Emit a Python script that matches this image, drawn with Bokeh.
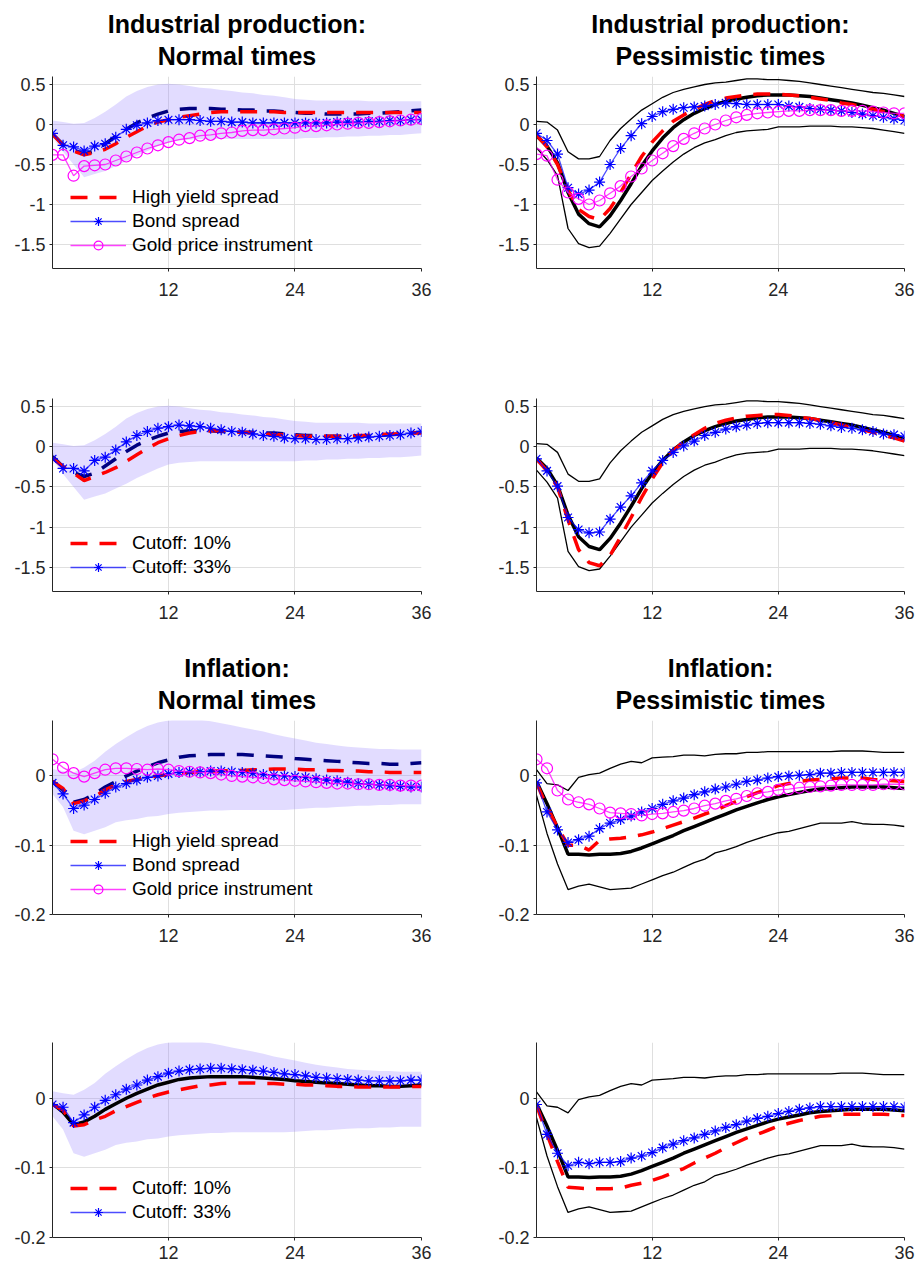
from bokeh.plotting import figure
from bokeh.models import (Range1d, FixedTicker, CustomJSTickFormatter, Legend,
                          LegendItem, Title)
from bokeh.layouts import column, row
from bokeh.embed import file_html
from bokeh.resources import INLINE

# ---------------- data ----------------
horizon = list(range(1, 37))
x_ticks = [12, 24, 36]
ip_ticks = [-1.5, -1, -0.5, 0, 0.5]
inf_ticks = [-0.2, -0.1, 0]

# Industrial production, normal times
ip_norm_band_hi = [0.05, 0.03, 0.01, 0.02, 0.08, 0.16, 0.25, 0.35, 0.42, 0.47, 0.50, 0.51, 0.50, 0.48, 0.46, 0.45, 0.43, 0.42,
                   0.40, 0.39, 0.37, 0.36, 0.34, 0.32, 0.31, 0.30, 0.30, 0.30, 0.30, 0.30, 0.29, 0.29, 0.29, 0.29, 0.29, 0.29]
ip_norm_band_lo = [-0.16, -0.34, -0.50, -0.66, -0.62, -0.58, -0.52, -0.46, -0.39, -0.33, -0.27, -0.22, -0.20, -0.19, -0.18, -0.18, -0.18, -0.18,
                   -0.18, -0.18, -0.18, -0.18, -0.18, -0.18, -0.17, -0.17, -0.16, -0.16, -0.15, -0.15, -0.14, -0.14, -0.13, -0.13, -0.12, -0.11]
ip_norm_base = [-0.12, -0.25, -0.32, -0.37, -0.33, -0.24, -0.15, -0.06, 0.02, 0.08, 0.13, 0.17, 0.19, 0.20, 0.20, 0.20, 0.19, 0.19,
                0.18, 0.18, 0.17, 0.17, 0.16, 0.15, 0.14, 0.14, 0.13, 0.13, 0.13, 0.13, 0.14, 0.14, 0.15, 0.16, 0.17, 0.18]
ip_norm_hy = [-0.12, -0.26, -0.33, -0.38, -0.35, -0.31, -0.24, -0.16, -0.09, -0.02, 0.03, 0.06, 0.09, 0.11, 0.13, 0.15, 0.16, 0.16,
              0.16, 0.16, 0.16, 0.16, 0.15, 0.15, 0.15, 0.15, 0.15, 0.15, 0.15, 0.15, 0.15, 0.15, 0.15, 0.15, 0.15, 0.15]
ip_norm_bond = [-0.11, -0.26, -0.28, -0.33, -0.27, -0.24, -0.16, -0.06, -0.01, 0.02, 0.05, 0.06, 0.06, 0.06, 0.05, 0.04, 0.04, 0.03,
                0.03, 0.02, 0.02, 0.02, 0.02, 0.02, 0.02, 0.02, 0.02, 0.03, 0.03, 0.03, 0.04, 0.04, 0.05, 0.05, 0.06, 0.06]
ip_norm_gold = [-0.38, -0.38, -0.64, -0.52, -0.51, -0.50, -0.45, -0.40, -0.35, -0.30, -0.26, -0.22, -0.19, -0.17, -0.14, -0.13, -0.11, -0.10,
                -0.08, -0.07, -0.07, -0.06, -0.05, -0.04, -0.02, -0.02, -0.01, 0.00, 0.01, 0.02, 0.02, 0.03, 0.04, 0.05, 0.06, 0.07]
ip_norm_c10 = [-0.14, -0.25, -0.33, -0.42, -0.37, -0.32, -0.26, -0.18, -0.10, -0.02, 0.05, 0.10, 0.14, 0.17, 0.19, 0.20, 0.20, 0.19,
               0.18, 0.17, 0.16, 0.15, 0.15, 0.14, 0.13, 0.13, 0.13, 0.13, 0.13, 0.14, 0.14, 0.15, 0.16, 0.16, 0.17, 0.17]
ip_norm_c33 = [-0.15, -0.27, -0.27, -0.30, -0.17, -0.13, -0.04, 0.06, 0.14, 0.19, 0.23, 0.25, 0.27, 0.26, 0.25, 0.23, 0.21, 0.19,
               0.18, 0.16, 0.14, 0.13, 0.11, 0.10, 0.10, 0.09, 0.09, 0.10, 0.10, 0.11, 0.12, 0.13, 0.14, 0.15, 0.17, 0.19]

# Industrial production, pessimistic times
ip_pess_hi = [0.04, 0.03, -0.07, -0.34, -0.43, -0.43, -0.40, -0.20, -0.05, 0.07, 0.18, 0.26, 0.34, 0.40, 0.44, 0.47, 0.50, 0.52,
              0.53, 0.55, 0.57, 0.57, 0.56, 0.56, 0.55, 0.54, 0.52, 0.50, 0.48, 0.46, 0.44, 0.42, 0.40, 0.39, 0.37, 0.35]
ip_pess_lo = [-0.29, -0.44, -0.64, -1.30, -1.49, -1.54, -1.52, -1.36, -1.18, -1.00, -0.85, -0.70, -0.58, -0.47, -0.37, -0.29, -0.23, -0.19,
              -0.14, -0.10, -0.08, -0.07, -0.06, -0.03, -0.03, -0.03, -0.02, -0.02, -0.02, -0.03, -0.03, -0.04, -0.05, -0.07, -0.09, -0.11]
ip_pess_base = [-0.14, -0.27, -0.48, -0.85, -1.12, -1.24, -1.28, -1.14, -0.95, -0.74, -0.52, -0.33, -0.17, -0.04, 0.06, 0.14, 0.20, 0.25,
                0.29, 0.32, 0.34, 0.36, 0.37, 0.37, 0.37, 0.36, 0.35, 0.33, 0.31, 0.29, 0.27, 0.24, 0.21, 0.18, 0.14, 0.10]
ip_pess_hy = [-0.13, -0.28, -0.50, -0.82, -1.06, -1.15, -1.19, -1.05, -0.85, -0.62, -0.40, -0.22, -0.08, 0.04, 0.12, 0.19, 0.25, 0.30,
              0.33, 0.35, 0.37, 0.38, 0.38, 0.38, 0.37, 0.36, 0.34, 0.32, 0.30, 0.27, 0.25, 0.22, 0.19, 0.16, 0.13, 0.10]
ip_pess_bond = [-0.11, -0.20, -0.37, -0.79, -0.87, -0.82, -0.72, -0.50, -0.30, -0.14, 0.01, 0.10, 0.16, 0.19, 0.21, 0.22, 0.23, 0.25,
                0.27, 0.26, 0.25, 0.25, 0.25, 0.25, 0.23, 0.22, 0.20, 0.19, 0.18, 0.17, 0.15, 0.13, 0.11, 0.09, 0.07, 0.05]
ip_pess_gold = [-0.37, -0.39, -0.69, -0.85, -0.93, -1.00, -0.95, -0.86, -0.77, -0.65, -0.55, -0.45, -0.36, -0.27, -0.18, -0.11, -0.05, 0.00,
                0.05, 0.09, 0.12, 0.14, 0.15, 0.16, 0.17, 0.17, 0.18, 0.18, 0.18, 0.17, 0.17, 0.17, 0.16, 0.15, 0.14, 0.14]
ip_pess_c10 = [-0.15, -0.30, -0.50, -0.91, -1.28, -1.44, -1.48, -1.35, -1.12, -0.88, -0.63, -0.40, -0.20, -0.05, 0.06, 0.15, 0.23, 0.29,
               0.33, 0.36, 0.38, 0.39, 0.40, 0.40, 0.39, 0.37, 0.35, 0.33, 0.30, 0.27, 0.24, 0.21, 0.18, 0.14, 0.11, 0.07]
ip_pess_c33 = [-0.15, -0.30, -0.49, -0.88, -1.03, -1.07, -1.06, -0.90, -0.75, -0.61, -0.45, -0.30, -0.17, -0.07, 0.01, 0.07, 0.14, 0.18,
               0.22, 0.25, 0.27, 0.29, 0.30, 0.30, 0.30, 0.30, 0.29, 0.28, 0.26, 0.24, 0.23, 0.21, 0.19, 0.16, 0.15, 0.13]

# Inflation, normal times
inf_norm_band_hi = [0.010, 0.007, 0.005, 0.012, 0.022, 0.035, 0.046, 0.056, 0.065, 0.072, 0.077, 0.080, 0.082, 0.082, 0.081, 0.079, 0.076, 0.073,
                    0.070, 0.067, 0.064, 0.060, 0.057, 0.054, 0.051, 0.048, 0.046, 0.044, 0.042, 0.041, 0.040, 0.039, 0.039, 0.038, 0.038, 0.038]
inf_norm_band_lo = [-0.026, -0.045, -0.079, -0.084, -0.079, -0.074, -0.067, -0.064, -0.062, -0.059, -0.058, -0.055, -0.053, -0.052, -0.051, -0.050, -0.050, -0.049,
                    -0.049, -0.049, -0.049, -0.049, -0.049, -0.048, -0.047, -0.046, -0.046, -0.045, -0.044, -0.043, -0.043, -0.042, -0.042, -0.041, -0.041, -0.041]
inf_norm_base = [-0.008, -0.020, -0.038, -0.034, -0.026, -0.016, -0.008, 0.000, 0.007, 0.013, 0.019, 0.023, 0.027, 0.029, 0.030, 0.031, 0.031, 0.031,
                 0.031, 0.030, 0.029, 0.028, 0.027, 0.025, 0.024, 0.023, 0.022, 0.021, 0.020, 0.019, 0.018, 0.018, 0.017, 0.017, 0.018, 0.019]
inf_norm_hy = [-0.008, -0.018, -0.040, -0.036, -0.030, -0.020, -0.013, -0.008, -0.005, -0.002, 0.000, 0.002, 0.004, 0.005, 0.006, 0.007, 0.007, 0.008,
               0.008, 0.009, 0.009, 0.010, 0.010, 0.010, 0.009, 0.009, 0.008, 0.008, 0.007, 0.007, 0.006, 0.006, 0.005, 0.005, 0.005, 0.005]
inf_norm_bond = [-0.010, -0.026, -0.047, -0.042, -0.034, -0.025, -0.016, -0.011, -0.006, -0.002, 0.000, 0.003, 0.005, 0.006, 0.006, 0.007, 0.007, 0.006,
                 0.005, 0.004, 0.002, 0.001, 0.000, -0.001, -0.002, -0.004, -0.006, -0.007, -0.009, -0.011, -0.012, -0.013, -0.014, -0.015, -0.016, -0.016]
inf_norm_gold = [0.024, 0.012, 0.004, -0.001, 0.004, 0.009, 0.011, 0.011, 0.010, 0.009, 0.010, 0.009, 0.007, 0.006, 0.005, 0.004, 0.002, 0.000,
                 -0.001, -0.002, -0.003, -0.005, -0.006, -0.007, -0.008, -0.009, -0.010, -0.011, -0.011, -0.012, -0.012, -0.013, -0.013, -0.014, -0.014, -0.014]
inf_norm_c10 = [-0.009, -0.017, -0.040, -0.038, -0.031, -0.026, -0.018, -0.012, -0.006, 0.000, 0.005, 0.009, 0.012, 0.015, 0.018, 0.019, 0.021, 0.022,
                0.022, 0.022, 0.021, 0.021, 0.020, 0.020, 0.019, 0.019, 0.018, 0.017, 0.017, 0.016, 0.016, 0.016, 0.016, 0.016, 0.017, 0.017]
inf_norm_c33 = [-0.009, -0.013, -0.035, -0.024, -0.013, -0.003, 0.005, 0.013, 0.019, 0.026, 0.031, 0.036, 0.039, 0.041, 0.042, 0.043, 0.043, 0.042,
                0.041, 0.040, 0.039, 0.037, 0.035, 0.034, 0.032, 0.030, 0.029, 0.028, 0.027, 0.026, 0.025, 0.025, 0.025, 0.025, 0.026, 0.026]

# Inflation, pessimistic times
inf_pess_hi = [0.009, -0.011, -0.013, -0.021, -0.002, 0.002, 0.004, 0.011, 0.017, 0.021, 0.019, 0.026, 0.027, 0.028, 0.030, 0.030, 0.029, 0.031,
               0.032, 0.032, 0.034, 0.034, 0.035, 0.035, 0.035, 0.035, 0.035, 0.035, 0.035, 0.036, 0.036, 0.036, 0.035, 0.034, 0.034, 0.034]
inf_pess_lo = [-0.028, -0.083, -0.127, -0.164, -0.159, -0.156, -0.160, -0.164, -0.163, -0.162, -0.156, -0.150, -0.144, -0.139, -0.132, -0.125, -0.120, -0.111,
               -0.107, -0.102, -0.096, -0.091, -0.086, -0.082, -0.080, -0.076, -0.072, -0.068, -0.068, -0.068, -0.066, -0.069, -0.070, -0.070, -0.071, -0.073]
inf_pess_base = [-0.008, -0.040, -0.075, -0.113, -0.113, -0.114, -0.113, -0.113, -0.112, -0.109, -0.104, -0.098, -0.092, -0.086, -0.079, -0.073, -0.067, -0.061,
                 -0.055, -0.049, -0.044, -0.039, -0.034, -0.030, -0.027, -0.024, -0.021, -0.019, -0.018, -0.017, -0.016, -0.016, -0.016, -0.016, -0.017, -0.018]
inf_pess_hy = [-0.010, -0.045, -0.074, -0.100, -0.100, -0.107, -0.093, -0.091, -0.090, -0.088, -0.085, -0.081, -0.076, -0.071, -0.066, -0.061, -0.055, -0.050,
               -0.043, -0.037, -0.030, -0.024, -0.019, -0.014, -0.011, -0.008, -0.006, -0.005, -0.004, -0.003, -0.003, -0.003, -0.005, -0.006, -0.007, -0.008]
inf_pess_bond = [-0.010, -0.052, -0.078, -0.096, -0.092, -0.087, -0.076, -0.068, -0.063, -0.058, -0.052, -0.047, -0.041, -0.036, -0.032, -0.027, -0.023, -0.019,
                 -0.016, -0.012, -0.008, -0.006, -0.003, -0.001, 0.000, 0.001, 0.002, 0.004, 0.004, 0.005, 0.005, 0.005, 0.005, 0.005, 0.005, 0.005]
inf_pess_gold = [0.024, 0.011, -0.021, -0.034, -0.038, -0.041, -0.047, -0.053, -0.054, -0.055, -0.057, -0.055, -0.054, -0.052, -0.050, -0.047, -0.043, -0.040,
                 -0.036, -0.033, -0.029, -0.025, -0.023, -0.020, -0.019, -0.017, -0.016, -0.015, -0.014, -0.013, -0.013, -0.013, -0.013, -0.012, -0.012, -0.012]
inf_pess_c10 = [-0.010, -0.052, -0.091, -0.128, -0.129, -0.130, -0.130, -0.130, -0.129, -0.125, -0.122, -0.118, -0.113, -0.107, -0.101, -0.093, -0.086, -0.079,
                -0.071, -0.064, -0.057, -0.052, -0.046, -0.040, -0.036, -0.032, -0.029, -0.026, -0.025, -0.023, -0.023, -0.023, -0.023, -0.023, -0.024, -0.025]
inf_pess_c33 = [-0.009, -0.052, -0.079, -0.097, -0.092, -0.094, -0.092, -0.092, -0.091, -0.086, -0.083, -0.078, -0.071, -0.066, -0.061, -0.057, -0.052, -0.047,
                -0.042, -0.038, -0.033, -0.029, -0.026, -0.022, -0.019, -0.016, -0.014, -0.012, -0.012, -0.012, -0.012, -0.012, -0.012, -0.012, -0.012, -0.013]

# ---------------- styles ----------------
FONT = "Liberation Sans"
AX = "#262626"
GRID = "#dfdfdf"
RED = "#ff0000"
NAVY = "#000080"
BLUE = "#0000ff"
MAG = "#ff00ff"
BAND = "#9680ff"
DASH = "17 12"

COLS = [dict(w=460, bl=52, br=39), dict(w=456, bl=76, br=12)]
ROWS = [dict(h=308, bt=76, bb=40, ylim=(-1.8, 0.6), ticks=ip_ticks, so=11),
        dict(h=323, bt=90, bb=40, ylim=(-1.8, 0.6), ticks=ip_ticks, so=11),
        dict(h=323, bt=89, bb=40, ylim=(-0.2, 0.08), ticks=inf_ticks, so=11),
        dict(h=312, bt=88, bb=29, ylim=(-0.2, 0.08), ticks=inf_ticks, so=5)]


def make_fig(r, c):
    R, C = ROWS[r], COLS[c]
    p = figure(width=C["w"], height=R["h"], min_border_left=C["bl"], min_border_right=C["br"],
               min_border_top=R["bt"], min_border_bottom=R["bb"],
               x_range=Range1d(1, 36), y_range=Range1d(*R["ylim"]),
               output_backend="svg", toolbar_location=None, tools="")
    p.outline_line_color = None
    p.background_fill_color = "white"
    p.border_fill_color = "white"
    for ax in (p.xaxis[0], p.yaxis[0]):
        ax.axis_line_color = AX
        ax.axis_line_width = 1
        ax.major_tick_line_color = AX
        ax.major_tick_in = 0
        ax.major_tick_out = 3
        ax.minor_tick_line_color = None
        ax.major_label_text_font = FONT
        ax.major_label_text_font_size = "18px"
        ax.major_label_text_color = AX
        ax.formatter = CustomJSTickFormatter(code="return String(tick);")
    p.xaxis[0].ticker = FixedTicker(ticks=x_ticks)
    p.yaxis[0].ticker = FixedTicker(ticks=R["ticks"])
    p.xaxis[0].major_label_standoff = R["so"]
    p.yaxis[0].major_label_standoff = 4
    p.xgrid.grid_line_color = GRID
    p.ygrid.grid_line_color = GRID
    return p


def make_title(text, standoff):
    kw = dict(text=text, align="center", text_font=FONT, text_font_size="25px",
              text_font_style="bold", text_color="black")
    try:
        return Title(standoff=standoff, **kw)
    except Exception:
        return Title(standoff=0, **kw)


def add_title(p, line1, line2):
    p.add_layout(make_title(line2, 13), "above")
    p.add_layout(make_title(line1, -9), "above")


def dashed(p, y, color):
    return p.line(horizon, y, line_color=color, line_width=3.5, line_dash=DASH)


def starline(p, y):
    l = p.line(horizon, y, line_color=BLUE, line_width=1.3, line_alpha=0.7)
    s = p.scatter(horizon, y, marker="asterisk", size=11, line_color=BLUE, line_width=1.2)
    return [l, s]


def circline(p, y):
    l = p.line(horizon, y, line_color=MAG, line_width=1.3, line_alpha=0.75)
    s = p.scatter(horizon, y, marker="circle", size=11, fill_color=None, line_color=MAG, line_width=1.2)
    return [l, s]


def add_legend(p, items, vy):
    lg = Legend(items=items, location=(18, vy), orientation="vertical", padding=0, spacing=2,
                glyph_height=22, glyph_width=56, label_height=22, label_standoff=6,
                label_text_font=FONT, label_text_font_size="19px", label_text_color="black",
                background_fill_alpha=0, border_line_alpha=0, margin=0)
    p.add_layout(lg)


def normal_panel(r, band_lo, band_hi, base, extra, legend_vy, title=None):
    p = make_fig(r, 0)
    p.varea(x=horizon, y1=band_lo, y2=band_hi, fill_color=BAND, fill_alpha=0.28)
    if extra[0] == "three":
        _, hy, bond, gold = extra
        dashed(p, base, NAVY)
        rr = dashed(p, hy, RED)
        rb = starline(p, bond)
        rg = circline(p, gold)
        items = [LegendItem(label="High yield spread", renderers=[rr]),
                 LegendItem(label="Bond spread", renderers=rb),
                 LegendItem(label="Gold price instrument", renderers=rg)]
    else:
        _, c10, c33, style = extra
        if style == "navy":
            dashed(p, base, NAVY)
        else:
            p.line(horizon, base, line_color="black", line_width=3.5)
        rr = dashed(p, c10, RED)
        rb = starline(p, c33)
        items = [LegendItem(label="Cutoff: 10%", renderers=[rr]),
                 LegendItem(label="Cutoff: 33%", renderers=rb)]
    add_legend(p, items, legend_vy)
    if title:
        add_title(p, title, "Normal times")
    return p


def pess_panel(r, lo, hi, base, series, title=None):
    p = make_fig(r, 1)
    p.line(horizon, hi, line_color="black", line_width=1.3)
    p.line(horizon, lo, line_color="black", line_width=1.3)
    p.line(horizon, base, line_color="black", line_width=3.5)
    if len(series) == 3:
        hy, bond, gold = series
        dashed(p, hy, RED)
        starline(p, bond)
        circline(p, gold)
    else:
        c10, c33 = series
        dashed(p, c10, RED)
        starline(p, c33)
    if title:
        add_title(p, title, "Pessimistic times")
    return p


p1 = normal_panel(0, ip_norm_band_lo, ip_norm_band_hi, ip_norm_base,
                  ("three", ip_norm_hy, ip_norm_bond, ip_norm_gold), 12, "Industrial production:")
p2 = pess_panel(0, ip_pess_lo, ip_pess_hi, ip_pess_base, (ip_pess_hy, ip_pess_bond, ip_pess_gold),
                "Industrial production:")
p3 = normal_panel(1, ip_norm_band_lo, ip_norm_band_hi, ip_norm_base,
                  ("two", ip_norm_c10, ip_norm_c33, "navy"), 13)
p4 = pess_panel(1, ip_pess_lo, ip_pess_hi, ip_pess_base, (ip_pess_c10, ip_pess_c33))
p5 = normal_panel(2, inf_norm_band_lo, inf_norm_band_hi, inf_norm_base,
                  ("three", inf_norm_hy, inf_norm_bond, inf_norm_gold), 14, "Inflation:")
p6 = pess_panel(2, inf_pess_lo, inf_pess_hi, inf_pess_base, (inf_pess_hy, inf_pess_bond, inf_pess_gold),
                "Inflation:")
p7 = normal_panel(3, inf_norm_band_lo, inf_norm_band_hi, inf_norm_base,
                  ("two", inf_norm_c10, inf_norm_c33, "black"), 14)
p8 = pess_panel(3, inf_pess_lo, inf_pess_hi, inf_pess_base, (inf_pess_c10, inf_pess_c33))

layout = column(row(p1, p2), row(p3, p4), row(p5, p6), row(p7, p8))

with open("out.html", "w") as f:
    f.write(file_html(layout, INLINE))
